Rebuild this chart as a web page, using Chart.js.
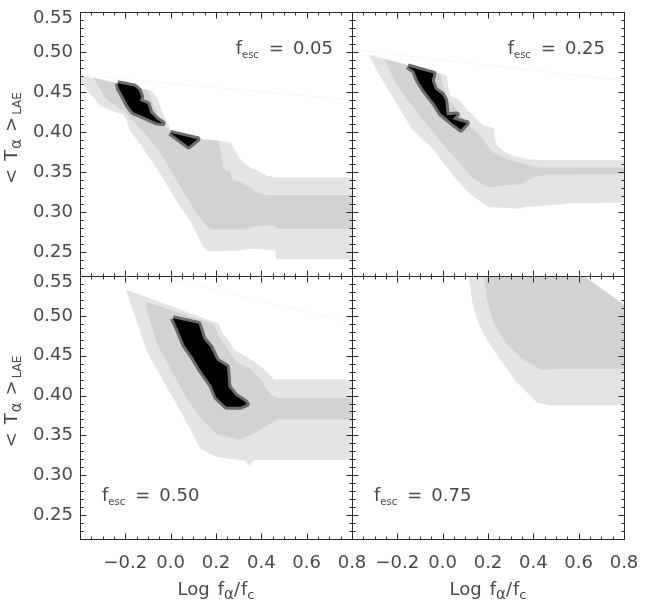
<!DOCTYPE html>
<html>
<head>
<meta charset="utf-8">
<script src="https://cdn.jsdelivr.net/npm/chart.js@4.4.1/dist/chart.umd.min.js"></script>
<style>
  html, body { margin: 0; padding: 0; background: #ffffff; }
  #wrap { position: relative; width: 664px; height: 614px; }
  #wrap canvas { position: absolute; left: 0; top: 0; }
</style>
</head>
<body>
<div id="wrap">
  <canvas id="tl" width="664" height="614"></canvas>
  <canvas id="tr" width="664" height="614"></canvas>
  <canvas id="bl" width="664" height="614"></canvas>
  <canvas id="br" width="664" height="614"></canvas>
</div>
<script>
// axis ranges and tick labels
const xRange = [-0.4, 0.8];
const yRange = [0.22, 0.55];
const xTickValues = [-0.2, 0.0, 0.2, 0.4, 0.6, 0.8];
const xTickLabels = ["\u22120.2", "0.0", "0.2", "0.4", "0.6", "0.8"];
const yTickValues = [0.25, 0.30, 0.35, 0.40, 0.45, 0.50, 0.55];
const yTickLabels = ["0.25", "0.30", "0.35", "0.40", "0.45", "0.50", "0.55"];
const fescValues = ["0.05", "0.25", "0.50", "0.75"];

// contour regions, [log fa/fc, <T_a>] pairs

// f_esc = 0.05
const tlFaint = [[-0.40, 0.471], [0.80, 0.440]];
const tlLight = [[-0.400, 0.471], [-0.085, 0.452], [-0.056, 0.441], [-0.041, 0.427], [-0.026, 0.418], [-0.004, 0.406], [0.005, 0.399], [0.120, 0.392], [0.215, 0.389], [0.265, 0.387], [0.294, 0.372], [0.323, 0.361], [0.350, 0.356], [0.390, 0.351], [0.427, 0.345], [0.470, 0.343], [0.800, 0.343], [0.800, 0.241], [0.466, 0.241], [0.462, 0.252], [0.360, 0.254], [0.300, 0.252], [0.165, 0.251], [0.140, 0.258], [0.088, 0.288], [0.030, 0.312], [-0.044, 0.347], [-0.132, 0.384], [-0.180, 0.402], [-0.195, 0.416], [-0.210, 0.422], [-0.254, 0.426], [-0.313, 0.433], [-0.335, 0.441], [-0.372, 0.453], [-0.400, 0.465]];
const tlMedium = [[-0.343, 0.468], [-0.100, 0.452], [-0.085, 0.441], [-0.070, 0.428], [-0.045, 0.415], [-0.015, 0.404], [0.005, 0.398], [0.120, 0.391], [0.212, 0.389], [0.221, 0.374], [0.233, 0.354], [0.262, 0.351], [0.272, 0.341], [0.309, 0.337], [0.338, 0.333], [0.383, 0.324], [0.427, 0.321], [0.800, 0.321], [0.800, 0.279], [0.471, 0.279], [0.456, 0.283], [0.366, 0.282], [0.323, 0.278], [0.177, 0.278], [0.150, 0.285], [0.100, 0.305], [0.030, 0.338], [-0.050, 0.376], [-0.120, 0.400], [-0.160, 0.412], [-0.181, 0.418], [-0.203, 0.426], [-0.247, 0.433], [-0.291, 0.443], [-0.320, 0.458]];
const tlBlackA = [[-0.234, 0.461], [-0.160, 0.457], [-0.140, 0.452], [-0.130, 0.444], [-0.136, 0.439], [-0.102, 0.435], [-0.090, 0.424], [-0.062, 0.416], [-0.036, 0.411], [-0.062, 0.412], [-0.125, 0.420], [-0.166, 0.425], [-0.188, 0.433], [-0.210, 0.445], [-0.229, 0.455]];
const tlBlackB = [[-0.002, 0.399], [0.118, 0.391], [0.079, 0.382]];

// f_esc = 0.25
const trFaint = [[-0.40, 0.503], [0.80, 0.464]];
const trLight = [[-0.327, 0.497], [0.004, 0.472], [0.019, 0.470], [0.025, 0.455], [0.034, 0.445], [0.070, 0.441], [0.107, 0.428], [0.130, 0.422], [0.151, 0.416], [0.180, 0.408], [0.226, 0.405], [0.232, 0.391], [0.240, 0.383], [0.269, 0.376], [0.313, 0.370], [0.372, 0.366], [0.431, 0.365], [0.800, 0.365], [0.800, 0.312], [0.560, 0.311], [0.450, 0.308], [0.350, 0.306], [0.343, 0.304], [0.291, 0.305], [0.203, 0.306], [0.196, 0.308], [0.151, 0.316], [0.115, 0.324], [0.048, 0.345], [-0.040, 0.378], [-0.135, 0.403], [-0.187, 0.428], [-0.260, 0.462], [-0.305, 0.485]];
const trMedium = [[-0.253, 0.491], [-0.009, 0.473], [0.000, 0.460], [0.019, 0.441], [0.048, 0.433], [0.078, 0.422], [0.107, 0.410], [0.144, 0.401], [0.166, 0.395], [0.196, 0.383], [0.225, 0.374], [0.284, 0.366], [0.357, 0.360], [0.430, 0.3555], [0.800, 0.3555], [0.800, 0.3475], [0.460, 0.347], [0.401, 0.343], [0.343, 0.335], [0.203, 0.331], [0.136, 0.341], [0.085, 0.358], [0.019, 0.378], [-0.040, 0.399], [-0.099, 0.420], [-0.157, 0.441], [-0.217, 0.466]];
const trBlack = [[-0.154, 0.482], [-0.041, 0.473], [-0.048, 0.464], [-0.033, 0.453], [-0.003, 0.447], [0.011, 0.440], [0.018, 0.421], [0.062, 0.422], [0.044, 0.416], [0.106, 0.411], [0.080, 0.403], [0.043, 0.411], [-0.008, 0.423], [-0.037, 0.436], [-0.081, 0.452], [-0.110, 0.465], [-0.125, 0.476]];

// f_esc = 0.50
const blFaint = [[-0.06, 0.550], [0.80, 0.491]];
const blLight = [[-0.198, 0.533], [0.213, 0.490], [0.228, 0.478], [0.250, 0.472], [0.279, 0.458], [0.331, 0.449], [0.368, 0.443], [0.412, 0.433], [0.456, 0.420], [0.800, 0.420], [0.800, 0.319], [0.368, 0.319], [0.346, 0.312], [0.330, 0.318], [0.206, 0.323], [0.132, 0.333], [0.052, 0.376], [-0.044, 0.424], [-0.103, 0.454], [-0.147, 0.491]];
const blMedium = [[-0.113, 0.518], [0.191, 0.489], [0.213, 0.474], [0.265, 0.453], [0.294, 0.441], [0.346, 0.435], [0.397, 0.420], [0.441, 0.401], [0.471, 0.397], [0.800, 0.397], [0.800, 0.370], [0.471, 0.370], [0.441, 0.365], [0.360, 0.351], [0.301, 0.345], [0.206, 0.351], [0.132, 0.372], [0.074, 0.395], [0.000, 0.433], [-0.059, 0.464], [-0.096, 0.499]];
const blBlack = [[0.010, 0.497], [0.123, 0.490], [0.145, 0.471], [0.175, 0.461], [0.204, 0.444], [0.248, 0.436], [0.255, 0.411], [0.285, 0.400], [0.329, 0.392], [0.335, 0.389], [0.308, 0.386], [0.245, 0.386], [0.201, 0.398], [0.179, 0.413], [0.134, 0.431], [0.098, 0.448], [0.061, 0.463], [0.032, 0.483]];

// f_esc = 0.75
const brLight = [[0.114, 0.550], [0.622, 0.550], [0.800, 0.514], [0.800, 0.3875], [0.475, 0.3875], [0.416, 0.391], [0.328, 0.416], [0.254, 0.445], [0.196, 0.470], [0.151, 0.495], [0.129, 0.520]];
const brMedium = [[0.182, 0.550], [0.622, 0.550], [0.800, 0.514], [0.800, 0.4335], [0.533, 0.4335], [0.431, 0.4325], [0.346, 0.447], [0.278, 0.466], [0.225, 0.491], [0.196, 0.520]];

const LIGHT = "#e4e4e4";
const MEDIUM = "#d2d2d2";
const DARK = "#6c6c6c";
const FAINT = "#f7f7f7";
const TEXT = "#4a4a4a";
const FONT = "DejaVu Sans";

function toXY(points) {
  return points.map(p => ({ x: p[0], y: p[1] }));
}

function region(points, color, order) {
  return {
    data: toXY(points.concat([points[0]])),
    backgroundColor: color,
    borderColor: color,
    borderWidth: 0,
    fill: "shape",
    order: order
  };
}

// black core with a dark grey rim just outside it
function core(points) {
  const closed = toXY(points.concat([points[0]]));
  return [
    {
      data: closed,
      backgroundColor: DARK,
      borderColor: DARK,
      borderWidth: 6,
      borderJoinStyle: "round",
      fill: "shape",
      order: 2
    },
    {
      data: closed,
      backgroundColor: "#000000",
      borderColor: "#000000",
      borderWidth: 0,
      fill: "shape",
      order: 1
    }
  ];
}

function faint(points) {
  return {
    data: toXY(points),
    borderColor: FAINT,
    borderWidth: 1,
    fill: false,
    order: 10
  };
}

// draw text pieces one after another: [text, size, drop, gapBefore]
function drawPieces(ctx, pieces, x, y, align) {
  let total = 0;
  pieces.forEach(p => {
    ctx.font = p[1] + "px '" + FONT + "'";
    total += (p[3] || 0) + ctx.measureText(p[0]).width;
  });
  let cx = align === "center" ? x - total / 2 : (align === "right" ? x - total : x);
  pieces.forEach(p => {
    ctx.font = p[1] + "px '" + FONT + "'";
    cx += p[3] || 0;
    ctx.fillText(p[0], cx, y + p[2]);
    cx += ctx.measureText(p[0]).width;
  });
}

const panelPlugin = {
  id: "panelFrame",
  afterDraw(chart, args, opts) {
    const { ctx, chartArea: a } = chart;
    const xs = chart.scales.x;
    const ys = chart.scales.y;
    const L = Math.round(a.left) + 0.5, R = Math.round(a.right) + 0.5;
    const T = Math.round(a.top) + 0.5, B = Math.round(a.bottom) + 0.5;

    ctx.save();
    ctx.strokeStyle = "#2a2a2a";
    ctx.lineWidth = 1;
    ctx.strokeRect(L, T, R - L, B - T);

    ctx.beginPath();
    for (let i = 1; i < 24; i++) {
      const v = xRange[0] + i * 0.05;
      const len = i % 4 === 0 ? 6 : 3;
      const px = Math.round(xs.getPixelForValue(v)) + 0.5;
      ctx.moveTo(px, T); ctx.lineTo(px, T + len);
      ctx.moveTo(px, B); ctx.lineTo(px, B - len);
    }
    for (let k = 23; k < 55; k++) {
      const len = k % 5 === 0 ? 6 : 3;
      const py = Math.round(ys.getPixelForValue(k / 100)) + 0.5;
      ctx.moveTo(L, py); ctx.lineTo(L + len, py);
      ctx.moveTo(R, py); ctx.lineTo(R - len, py);
    }
    ctx.stroke();

    ctx.fillStyle = TEXT;

    if (opts.yLabels) {
      ctx.font = "18px '" + FONT + "'";
      ctx.textAlign = "right";
      ctx.textBaseline = "middle";
      yTickValues.forEach((v, i) => {
        let py = ys.getPixelForValue(v);
        if (py - a.top < 6) py = a.top + 6;
        ctx.fillText(yTickLabels[i], a.left - 7, py);
      });
      // rotated y title
      ctx.textAlign = "left";
      ctx.textBaseline = "alphabetic";
      ctx.save();
      ctx.translate(17, (a.top + a.bottom) / 2 - 6);
      ctx.rotate(-Math.PI / 2);
      drawPieces(ctx, [["<", 18, 0, 0], ["T", 18, 0, 8], ["\u03b1", 15, 4, 1], [">", 18, 0, 7], ["LAE", 12, 4, 2]], 0, 0, "center");
      ctx.restore();
    }

    if (opts.xLabels) {
      ctx.font = "18px '" + FONT + "'";
      ctx.textAlign = "center";
      ctx.textBaseline = "middle";
      xTickValues.forEach((v, i) => {
        ctx.fillText(xTickLabels[i], xs.getPixelForValue(v), a.bottom + 24);
      });
      ctx.textAlign = "left";
      ctx.textBaseline = "alphabetic";
      drawPieces(ctx, [["Log", 18, 0, 0], ["f", 18, 0, 8], ["\u03b1", 15, 4, 0], ["/", 18, 0, 0], ["f", 18, 0, 1], ["c", 13, 4, 0]], (a.left + a.right) / 2, a.bottom + 56, "center");
    }

    // f_esc label
    ctx.textAlign = "left";
    ctx.textBaseline = "alphabetic";
    const pieces = [["f", 18, 0, 0], ["esc", 10, 4, 0], ["=", 18, 0, 10], [opts.fesc, 18, 0, 9]];
    if (opts.labelPos === "topRight") {
      drawPieces(ctx, pieces, a.right - 19, a.top + 42, "right");
    } else {
      drawPieces(ctx, pieces, a.left + 22, a.bottom - 38, "left");
    }
    ctx.restore();
  }
};

function makePanel(id, padding, datasets, frame) {
  return new Chart(document.getElementById(id), {
    type: "line",
    data: { datasets: datasets },
    options: {
      responsive: false,
      animation: false,
      layout: { padding: padding },
      elements: { point: { radius: 0 }, line: { tension: 0 } },
      plugins: {
        legend: { display: false },
        tooltip: { enabled: false },
        panelFrame: frame
      },
      scales: {
        x: { type: "linear", min: xRange[0], max: xRange[1], display: false },
        y: { type: "linear", min: yRange[0], max: yRange[1], display: false }
      }
    },
    plugins: [panelPlugin]
  });
}

makePanel("tl", { left: 80, top: 12, right: 312, bottom: 338 },
  [faint(tlFaint), region(tlLight, LIGHT, 5), region(tlMedium, MEDIUM, 4), ...core(tlBlackA), ...core(tlBlackB)],
  { yLabels: true, xLabels: false, fesc: fescValues[0], labelPos: "topRight" });

makePanel("tr", { left: 352, top: 12, right: 40, bottom: 338 },
  [faint(trFaint), region(trLight, LIGHT, 5), region(trMedium, MEDIUM, 4), ...core(trBlack)],
  { yLabels: false, xLabels: false, fesc: fescValues[1], labelPos: "topRight" });

makePanel("bl", { left: 80, top: 276, right: 312, bottom: 75 },
  [faint(blFaint), region(blLight, LIGHT, 5), region(blMedium, MEDIUM, 4), ...core(blBlack)],
  { yLabels: true, xLabels: true, fesc: fescValues[2], labelPos: "bottomLeft" });

makePanel("br", { left: 352, top: 276, right: 40, bottom: 75 },
  [region(brLight, LIGHT, 5), region(brMedium, MEDIUM, 4)],
  { yLabels: false, xLabels: true, fesc: fescValues[3], labelPos: "bottomLeft" });
</script>
</body>
</html>
